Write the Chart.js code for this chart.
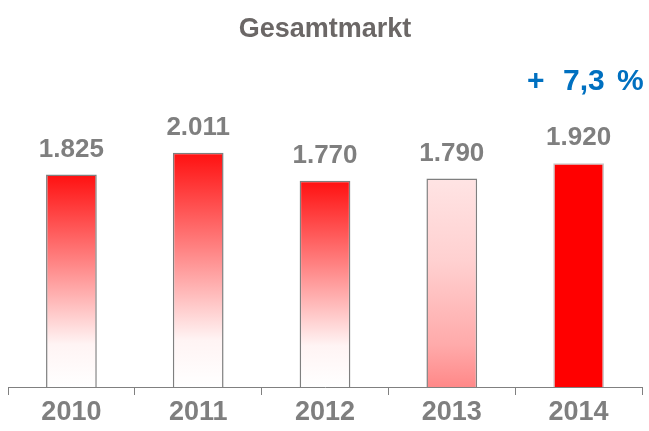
<!DOCTYPE html>
<html>
<head>
<meta charset="utf-8">
<script src="https://cdn.jsdelivr.net/npm/chart.js@4/dist/chart.umd.min.js"></script>
<style>
html,body{margin:0;padding:0;background:#fff;}
#wrap{position:relative;width:649px;height:431px;}
.growth{position:absolute;top:63px;font:bold 30px "Liberation Sans",Arial,sans-serif;color:#0070c0;white-space:pre;word-spacing:4px;}
</style>
</head>
<body>
<div id="wrap">
<canvas id="c" width="649" height="431"></canvas>
<div class="growth" style="left:527px">+</div>
<div class="growth" style="left:563px">7,3 %</div>
</div>
<script>
const categories = ["2010", "2011", "2012", "2013", "2014"];
const values = [1825, 2011, 1770, 1790, 1920];
const valueLabels = ["1.825", "2.011", "1.770", "1.790", "1.920"];

const gradientStops = [
  [["#ff1010", 0], ["#ff8080", 0.4], ["#fff4f4", 0.8], ["#ffffff", 1]],
  [["#ff1010", 0], ["#ff8080", 0.4], ["#fff4f4", 0.8], ["#ffffff", 1]],
  [["#ff1010", 0], ["#ff8080", 0.4], ["#fff4f4", 0.8], ["#ffffff", 1]],
  [["#ffe4e4", 0], ["#ffd0d0", 0.4], ["#ffaaaa", 0.8], ["#ff8888", 1]],
  [["#ff0000", 0], ["#ff0000", 1]]
];
const borderColors = ["#7f7f7f", "#7f7f7f", "#7f7f7f", "#7f7f7f", "#c8c8c8"];

function barFill(ctx) {
  const chart = ctx.chart;
  if (!chart.chartArea || ctx.type !== "data") return "#ff0000";
  const y = chart.scales.y;
  const top = y.getPixelForValue(values[ctx.dataIndex]);
  const bottom = y.getPixelForValue(0);
  const g = chart.ctx.createLinearGradient(0, top, 0, bottom);
  gradientStops[ctx.dataIndex].forEach(s => g.addColorStop(s[1], s[0]));
  return g;
}

const labelPlugin = {
  id: "valueLabels",
  afterDatasetsDraw(chart) {
    const c = chart.ctx;
    const meta = chart.getDatasetMeta(0);
    c.save();
    c.font = "bold 26px 'Liberation Sans', Arial, sans-serif";
    c.fillStyle = "#7f7f7f";
    c.textAlign = "center";
    c.textBaseline = "middle";
    meta.data.forEach((bar, i) => {
      c.fillText(valueLabels[i], bar.x, bar.y - 25);
    });
    c.restore();
  }
};

new Chart(document.getElementById("c"), {
  type: "bar",
  data: {
    labels: categories,
    datasets: [{
      data: values,
      backgroundColor: barFill,
      borderColor: borderColors,
      borderWidth: 1.5,
      borderSkipped: "bottom",
      categoryPercentage: 1,
      barPercentage: 0.4
    }]
  },
  options: {
    responsive: false,
    animation: false,
    layout: { padding: { left: 8, right: 7, top: 0, bottom: 1 } },
    plugins: {
      legend: { display: false },
      tooltip: { enabled: false },
      title: {
        display: true,
        text: "Gesamtmarkt",
        color: "#6b6766",
        font: { family: "'Liberation Sans', Arial, sans-serif", size: 27, weight: "bold" },
        padding: { top: 13, bottom: 62 }
      }
    },
    scales: {
      x: {
        grid: { display: true, drawOnChartArea: false, drawTicks: true, tickLength: 8, color: "#808080", offset: true },
        border: { display: true, color: "#808080", width: 1 },
        ticks: {
          color: "#7f7f7f",
          padding: 4,
          font: { family: "'Liberation Sans', Arial, sans-serif", size: 27, weight: "bold", lineHeight: 1.0 }
        }
      },
      y: {
        display: false,
        min: 0,
        max: 2400
      }
    }
  },
  plugins: [labelPlugin]
});
</script>
</body>
</html>
